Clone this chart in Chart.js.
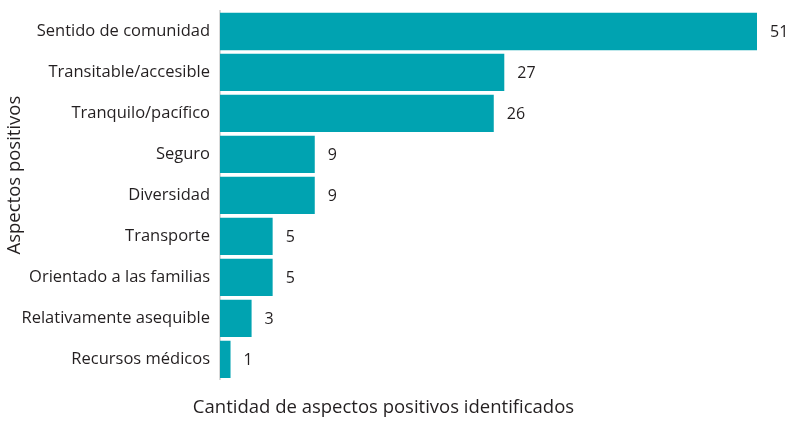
<!DOCTYPE html>
<html>
<head>
<meta charset="utf-8">
<script src="https://cdn.jsdelivr.net/npm/chart.js@4/dist/chart.umd.min.js"></script>
<style>
  body { margin: 0; background: #fff; }
  #wrap { width: 788px; height: 422px; position: relative; }
</style>
</head>
<body>
<div id="wrap"><canvas id="aspectos"></canvas></div>
<script>
const categorias = ['Sentido de comunidad', 'Transitable/accesible', 'Tranquilo/pacífico', 'Seguro',
  'Diversidad', 'Transporte', 'Orientado a las familias', 'Relativamente asequible', 'Recursos médicos'];
const cantidades = [51, 27, 26, 9, 9, 5, 5, 3, 1];
const tituloY = 'Aspectos positivos';
const tituloX = 'Cantidad de aspectos positivos identificados';

const fuente = "'Open Sans', 'Noto Sans', sans-serif";

// numeros al final de cada barra + titulo del eje y (un poco arriba del centro, como en el original)
const etiquetasValor = {
  id: 'etiquetasValor',
  afterDatasetsDraw(chart) {
    const ctx = chart.ctx;
    const meta = chart.getDatasetMeta(0);
    const area = chart.chartArea;
    ctx.save();
    ctx.font = '16px ' + fuente;
    ctx.fillStyle = '#231f20';
    ctx.textAlign = 'left';
    ctx.textBaseline = 'middle';
    meta.data.forEach((bar, i) => {
      ctx.fillText(String(cantidades[i]), bar.x + 13, bar.y + 1);
    });
    ctx.translate(15, area.top + area.height * 0.445);
    ctx.rotate(-Math.PI / 2);
    ctx.textAlign = 'center';
    ctx.font = '18.5px ' + fuente;
    ctx.fillText(tituloY, 0, 0);
    ctx.restore();
  }
};

let aspectosGraph = new Chart(document.getElementById('aspectos'), {
  type: 'bar',
  data: {
    labels: categorias,
    datasets: [{
      data: cantidades,
      backgroundColor: '#00a3b1',
      borderWidth: 0,
      barPercentage: 0.91,
      categoryPercentage: 1
    }]
  },
  options: {
    indexAxis: 'y',
    responsive: true,
    maintainAspectRatio: false,
    animation: false,
    layout: { padding: { top: 11, right: 31, left: 10, bottom: 0 } },
    scales: {
      x: { display: false, min: 0, max: 51 },
      y: {
        grid: { display: false, drawTicks: false },
        border: { display: true, color: '#d9d9d9', width: 2 },
        ticks: { color: '#231f20', font: { family: fuente, size: 16.5 }, padding: 10 },
        afterFit(scale) {
          scale.width = 210;
          scale.paddingTop = 0;
          scale.paddingBottom = 0;
        }
      }
    },
    plugins: {
      legend: { display: false },
      tooltip: { enabled: false },
      title: {
        display: true,
        position: 'bottom',
        text: tituloX,
        color: '#231f20',
        font: { family: fuente, size: 18.5, weight: 'normal' },
        padding: { top: 17, bottom: 3 }
      }
    }
  },
  plugins: [etiquetasValor]
});
</script>
</body>
</html>
